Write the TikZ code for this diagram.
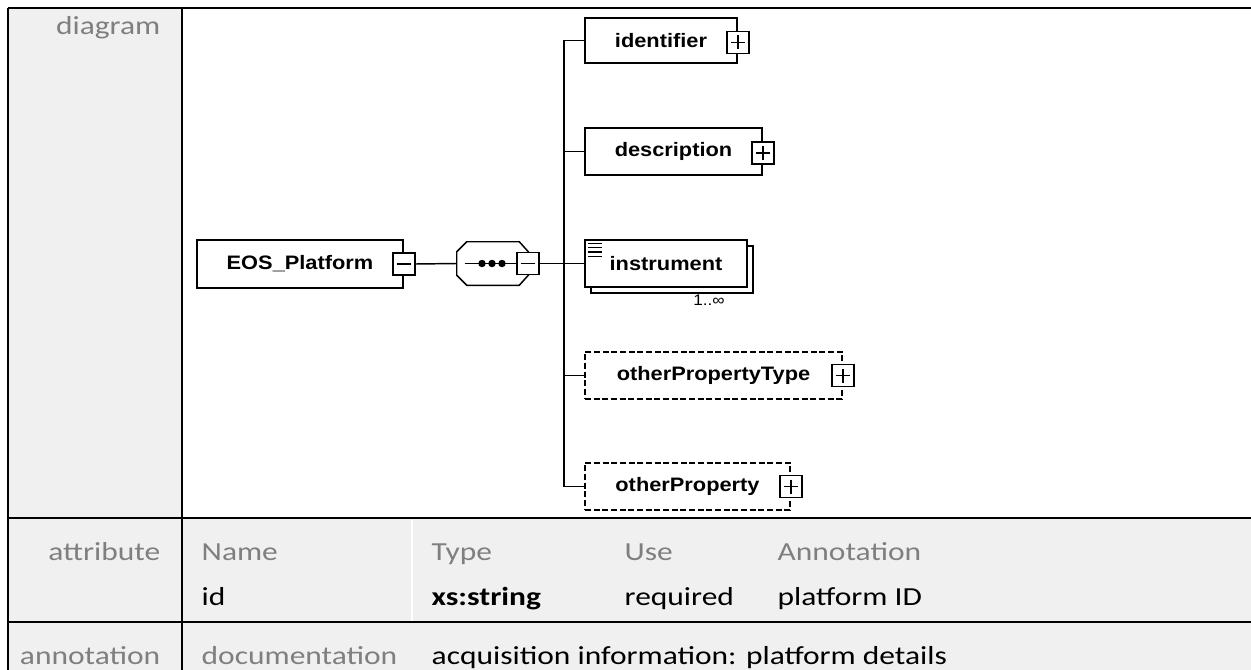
\documentclass[tikz,border=0pt]{standalone}
\usepackage{fontspec}
\usepackage{tikz}
\usetikzlibrary{calc}
\usepackage{xcolor}

\newfontfamily\cellfont[FakeStretch=1.21]{Carlito}
\newfontfamily\boxfont[FakeStretch=1.12]{Liberation Sans}
\definecolor{cellgray}{HTML}{F0F0F0}
\definecolor{labgray}{HTML}{7F7F7F}

\begin{document}
\begin{tikzpicture}[x=0.75pt, y=-0.75pt,
    elem/.style={draw, line width=1.2pt, fill=white, inner sep=0pt,
                 minimum height=35.25pt, font=\boxfont\fontsize{14.6}{17}\selectfont\bfseries},
    optelem/.style={elem, line width=1.1pt, dash pattern=on 4.5pt off 2pt},
    toggle/.style={draw, line width=1.2pt, fill=white, minimum size=16.5pt, inner sep=0pt},
    minusbox/.style={toggle, path picture={
        \draw[line width=1.2pt] ([xshift=3pt]path picture bounding box.west)
              -- ([xshift=-3pt]path picture bounding box.east);}},
    plusbox/.style={toggle, path picture={
        \draw[line width=1.2pt] ([xshift=3pt]path picture bounding box.west)
              -- ([xshift=-3pt]path picture bounding box.east);
        \draw[line width=1.2pt] ([yshift=-3pt]path picture bounding box.north)
              -- ([yshift=3pt]path picture bounding box.south);}},
    seqbox/.style={inner sep=0pt, minimum width=53.25pt, minimum height=32.25pt},
    conn/.style={line width=1.1pt},
    rule/.style={line width=2pt},
    rowlabel/.style={anchor=base east, text=labgray, font=\cellfont\fontsize{19.5}{22}\selectfont},
    colhead/.style={anchor=base west, text=labgray, font=\cellfont\fontsize{19.5}{22}\selectfont},
    cell/.style={anchor=base west, text=black, font=\cellfont\fontsize{19.5}{22}\selectfont}
  ]
    \useasboundingbox (0,0) rectangle (1251,670);

    % table background and rules
    \fill[white] (0,0) rectangle (1251,670);
    \fill[cellgray] (8,8) rectangle (182,518);
    \fill[cellgray] (8,518) rectangle (1251,670);
    \draw[white, line width=1pt] (412,520) -- (412,621);
    \draw[rule] (8,8) -- (1251,8);
    \draw[rule] (8,518) -- (1251,518);
    \draw[rule] (8,622) -- (1251,622);
    \draw[rule] (8,8) -- (8,670);
    \draw[rule] (182,8) -- (182,670);

    % diagram
    \node[elem, minimum width=154.5pt, minimum height=36pt] (platform) at (300,264) {EOS\_Platform};
    \node[minusbox] (platminus) at (platform.east) {};

    \node[seqbox] (seq) at (492.5,263.5) {};
    \draw[conn, fill=white] ($(seq.north west)+(10,0)$) -- ($(seq.north east)+(-9,0)$)
        -- ($(seq.north east)+(0,10)$) -- ($(seq.south east)+(0,-10)$)
        -- ($(seq.south east)+(-9,0)$) -- ($(seq.south west)+(10,0)$)
        -- ($(seq.south west)+(0,-10)$) -- ($(seq.north west)+(0,10)$) -- cycle;
    \draw[conn] ([xshift=6pt]seq.west) -- (seq.east);
    \foreach \dx in {482,492,502}
        \fill (\dx,263.5) circle (2.8pt);
    \node[minusbox] (seqminus) at (seq.east) {};

    \node[elem, minimum width=114pt, minimum height=33.75pt] (ident) at (661,40.5) {identifier};
    \node[plusbox, yshift=-1.5pt] (identplus) at (ident.east) {};

    \node[elem, minimum width=132.75pt] (descr) at (673.5,151.5) {description};
    \node[plusbox, yshift=-1pt] (descrplus) at (descr.east) {};

    \node[elem, minimum width=121.5pt] (instrshadow) at (672,269.5) {};
    \node[elem, minimum width=121.5pt] (instr) at (666,263.5) {instrument};
    \foreach \k in {0,...,3}
        \draw[line width=0.8pt] ($(instr.north west)+(4,4+4.4*\k)$) -- ++(14,0);
    \node[font=\boxfont\fontsize{11.5}{12}\selectfont] (mult) at (709,300) {1..∞};

    \node[optelem, minimum width=192.75pt] (optype) at (713.5,375.5) {otherPropertyType};
    \node[plusbox] (optypeplus) at (optype.east) {};

    \node[optelem, minimum width=153.75pt] (oprop) at (687.5,486.5) {otherProperty};
    \node[plusbox] (opropplus) at (oprop.east) {};

    \coordinate (spine) at (564,263.5);
    \draw[conn] (platminus.east) -- (seq.west);
    \draw[conn] (seqminus.east) -- (instr.west);
    \draw[conn] (ident.west) -| (spine) |- (oprop.west);
    \draw[conn] (descr.west) -- (descr.west -| spine);
    \draw[conn] (optype.west) -- (optype.west -| spine);

    % rows below
    \node[rowlabel] (lbldiag) at (165,35) {diagram};
    \node[rowlabel] (lblattr) at (165,560) {attribute};
    \node[rowlabel] (lblanno) at (165,664) {annotation};

    \node[colhead] (hname) at (197,560) {Name};
    \node[colhead] (htype) at (427,560) {Type};
    \node[colhead] (huse)  at (620,560) {Use};
    \node[colhead] (hanno) at (773,560) {Annotation};

    \node[cell] (vname) at (197,605) {id};
    \node[cell, font=\cellfont\fontsize{19.5}{22}\selectfont\bfseries] (vtype) at (427,605) {xs:string};
    \node[cell] (vuse)  at (620,605) {required};
    \node[cell] (vanno) at (773,605) {platform ID};

    \node[colhead] (hdoc) at (197,664) {documentation};
    \node[cell] (vdoc) at (427,664) {acquisition information: platform details};
  \end{tikzpicture}
\end{document}
